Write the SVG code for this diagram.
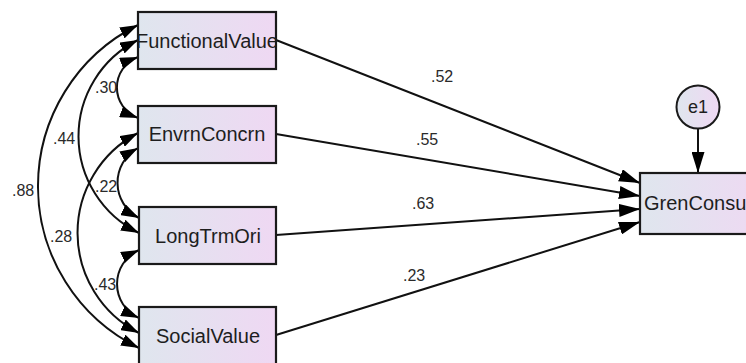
<svg xmlns="http://www.w3.org/2000/svg" width="746" height="363" viewBox="0 0 746 363">
  <defs>
    <linearGradient id="boxfill" x1="0" y1="0" x2="1" y2="0">
      <stop offset="0" stop-color="#dfe6ee"/>
      <stop offset="1" stop-color="#efd8f3"/>
    </linearGradient>
    <marker id="ah" markerUnits="userSpaceOnUse" markerWidth="18" markerHeight="12" refX="18" refY="6" orient="auto-start-reverse">
      <path d="M0,0 L18,6 L0,12 z" fill="#000"/>
    </marker>
    <marker id="ahs" markerUnits="userSpaceOnUse" markerWidth="21" markerHeight="13" refX="21" refY="6.5" orient="auto">
      <path d="M0,0 L21,6.5 L0,13 z" fill="#000"/>
    </marker>
    <style>
      .box { fill: url(#boxfill); stroke: #1a1a1a; stroke-width: 2.2; }
      .lbl { font-family: "Liberation Sans", Arial, sans-serif; font-size: 20px; fill: #1e1e1e; text-anchor: middle; }
      .num { font-family: "Liberation Sans", Arial, sans-serif; font-size: 16px; fill: #2a2a2a; }
      .cov { fill: none; stroke: #111; stroke-width: 2; marker-start: url(#ah); marker-end: url(#ah); }
      .path { fill: none; stroke: #111; stroke-width: 2; marker-end: url(#ahs); }
    </style>
  </defs>
  <rect width="746" height="363" fill="#fff"/>

  <g id="connectors">
    <path class="cov" d="M138,25 A180 180 0 0 0 139,348"/>
    <path class="cov" d="M138,40 A107.6 107.6 0 0 0 139,233"/>
    <path class="cov" d="M138,57 A32.6 32.6 0 0 0 138,118"/>
    <path class="cov" d="M138,133 A112.5 112.5 0 0 0 139,333"/>
    <path class="cov" d="M138,148 A39.7 39.7 0 0 0 139,218"/>
    <path class="cov" d="M139,250 A37.3 37.3 0 0 0 139,318"/>
    <path class="path" d="M276,40 L640,183"/>
    <path class="path" d="M276,134 L640,196"/>
    <path class="path" d="M276,235 L640,209"/>
    <path class="path" d="M276,335 L640,222"/>
    <path class="path" d="M698,128 L698,173"/>
    <text class="num" x="431" y="82">.52</text>
    <text class="num" x="416" y="145">.55</text>
    <text class="num" x="412" y="209">.63</text>
    <text class="num" x="403" y="281">.23</text>
    <text class="num" x="95" y="93">.30</text>
    <text class="num" x="53" y="144">.44</text>
    <text class="num" x="12" y="196">.88</text>
    <text class="num" x="50" y="242">.28</text>
    <text class="num" x="95" y="192">.22</text>
    <text class="num" x="94" y="290">.43</text>
  </g>

  <g id="FunctionalValue">
    <rect class="box" x="138" y="12" width="138" height="57"/>
    <text class="lbl" x="207" y="48">FunctionalValue</text>
  </g>
  <g id="EnvrnConcrn">
    <rect class="box" x="138" y="106" width="138" height="57"/>
    <text class="lbl" x="207" y="141">EnvrnConcrn</text>
  </g>
  <g id="LongTrmOri">
    <rect class="box" x="139" y="207" width="137" height="57"/>
    <text class="lbl" x="208" y="243">LongTrmOri</text>
  </g>
  <g id="SocialValue">
    <rect class="box" x="139" y="307" width="137" height="58"/>
    <text class="lbl" x="208" y="343">SocialValue</text>
  </g>
  <g id="GrenConsu">
    <rect class="box" x="640" y="173" width="130" height="61"/>
    <text class="lbl" x="644" y="210" style="text-anchor:start">GrenConsu</text>
  </g>
  <g id="e1">
    <circle cx="698" cy="107" r="21.5" fill="url(#boxfill)" stroke="#1a1a1a" stroke-width="2"/>
    <text class="lbl" x="698" y="113" style="font-size:18px">e1</text>
  </g>
</svg>
